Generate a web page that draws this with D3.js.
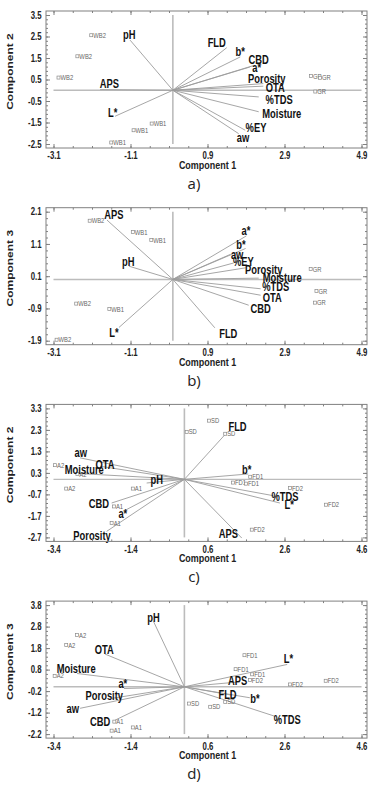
<!DOCTYPE html>
<html>
<head>
<meta charset="utf-8">
<script src="https://cdn.jsdelivr.net/npm/d3@7"></script>
<style>
  body { margin: 0; background: #fff; }
  svg { display: block; }
</style>
</head>
<body>
<svg id="chart" width="377" height="785"></svg>
<script>
// tick labels
var xTicksAB = [-3.1, -1.1, 0.9, 2.9, 4.9];
var xTicksCD = [-3.4, -1.4, 0.6, 2.6, 4.6];
var yTicksA = [3.5, 2.5, 1.5, 0.5, -0.5, -1.5, -2.5];
var yTicksB = [2.1, 1.1, 0.1, -0.9, -1.9];
var yTicksC = [3.3, 2.3, 1.3, 0.3, -0.7, -1.7, -2.7];
var yTicksD = [3.8, 2.8, 1.8, 0.8, -0.2, -1.2, -2.2];

// loadings: name, end x, end y, label x, label y
var vectorsA = [
  ["pH", -1.11, 2.33, -1.13, 2.56],
  ["FLD", 1.40, 1.98, 1.14, 2.20],
  ["b*", 1.75, 1.55, 1.75, 1.78],
  ["CBD", 2.10, 1.15, 2.23, 1.40],
  ["a*", 2.00, 1.08, 2.18, 1.04],
  ["Porosity", 2.35, 0.31, 2.44, 0.54],
  ["OTA", 2.35, 0.19, 2.66, 0.12],
  ["%TDS", 2.23, -0.31, 2.76, -0.43],
  ["Moisture", 2.23, -1.00, 2.83, -1.09],
  ["%EY", 1.88, -1.86, 2.16, -1.74],
  ["aw", 1.71, -2.02, 1.82, -2.22],
  ["APS", -1.89, 0.03, -1.65, 0.31],
  ["L*", -1.50, -1.21, -1.56, -1.04]
];
var vectorsB = [
  ["APS", -1.71, 1.84, -1.53, 2.01],
  ["pH", -1.14, 0.41, -1.16, 0.56],
  ["L*", -1.40, -1.49, -1.53, -1.64],
  ["FLD", 1.09, -1.50, 1.44, -1.69],
  ["CBD", 1.97, -0.80, 2.28, -0.90],
  ["OTA", 2.28, -0.49, 2.58, -0.57],
  ["%TDS", 2.28, -0.29, 2.67, -0.24],
  ["Moisture", 2.23, 0.04, 2.84, 0.04],
  ["Porosity", 1.89, 0.36, 2.36, 0.30],
  ["%EY", 1.58, 0.51, 1.83, 0.55],
  ["aw", 1.50, 0.78, 1.67, 0.76],
  ["b*", 1.89, 0.96, 1.77, 1.06],
  ["a*", 1.91, 1.35, 1.90, 1.50]
];
var vectorsC = [
  ["FLD", 1.10, 2.17, 1.38, 2.45],
  ["aw", -2.71, 1.00, -2.69, 1.23],
  ["OTA", -2.19, 0.61, -2.06, 0.69],
  ["Moisture", -2.75, 0.27, -2.60, 0.46],
  ["pH", -0.98, -0.17, -0.72, -0.04],
  ["b*", 1.66, 0.25, 1.62, 0.46],
  ["%TDS", 2.31, -0.76, 2.61, -0.79],
  ["L*", 2.48, -1.10, 2.72, -1.18],
  ["CBD", -1.89, -1.10, -2.22, -1.13],
  ["a*", -1.54, -1.44, -1.60, -1.60],
  ["Porosity", -2.02, -2.42, -2.40, -2.61],
  ["APS", 1.49, -2.73, 1.14, -2.55]
];
var vectorsD = [
  ["pH", -0.80, 3.03, -0.80, 3.22],
  ["OTA", -2.06, 1.52, -2.08, 1.74],
  ["Moisture", -2.79, 0.62, -2.81, 0.82],
  ["a*", -1.57, -0.08, -1.60, 0.16],
  ["Porosity", -1.89, -0.54, -2.08, -0.43],
  ["aw", -2.71, -1.00, -2.90, -1.01],
  ["CBD", -1.80, -1.55, -2.19, -1.63],
  ["L*", 2.67, 1.04, 2.70, 1.29],
  ["APS", 1.44, 0.23, 1.38, 0.27],
  ["FLD", 1.23, -0.39, 1.12, -0.35],
  ["b*", 1.70, -0.51, 1.83, -0.54],
  ["%TDS", 2.40, -1.40, 2.67, -1.52]
];

// scores: sample, x, y
var pointsA = [
  ["WB2", -2.12, 2.56], ["WB2", -2.48, 1.58], ["WB2", -2.97, 0.59],
  ["WB1", -0.55, -1.55], ["WB1", -1.02, -1.86], ["WB1", -1.60, -2.43],
  ["GR", 3.59, 0.66], ["GR", 3.82, 0.58], ["GR", 3.70, -0.06]
];
var pointsB = [
  ["WB2", -2.16, 1.82], ["WB1", -1.04, 1.47], ["WB1", -0.56, 1.22],
  ["WB2", -2.51, -0.75], ["WB1", -1.65, -0.92], ["WB2", -3.02, -1.87],
  ["GR", 3.58, 0.32], ["GR", 3.73, -0.36], ["GR", 3.69, -0.72]
];
var pointsC = [
  ["SD", 0.64, 2.73], ["SD", 0.06, 2.21], ["SD", 1.06, 2.12],
  ["A2", -3.36, 0.66], ["A2", -2.78, 0.25], ["A2", -3.07, -0.43],
  ["A1", -1.34, -0.43], ["A1", -1.83, -1.26], ["A1", -1.89, -2.03],
  ["FD1", 1.71, 0.12], ["FD1", 1.26, -0.15], ["FD1", 1.60, -0.20],
  ["FD2", 2.74, -0.40], ["FD2", 3.68, -1.18], ["FD2", 1.75, -2.34]
];
var pointsD = [
  ["A2", -2.79, 2.41], ["A2", -3.07, 1.94], ["A2", -3.37, 0.51],
  ["A1", -1.82, -1.62], ["A1", -1.89, -2.04], ["A1", -1.34, -1.89],
  ["SD", 0.12, -0.78], ["SD", 0.67, -0.93], ["SD", 1.06, -0.70],
  ["FD1", 1.56, 1.47], ["FD1", 1.33, 0.82], ["FD1", 1.76, 0.58],
  ["FD2", 1.70, 0.31], ["FD2", 2.74, 0.11], ["FD2", 3.67, 0.28]
];

var panels = [
  { vectors: vectorsA, points: pointsA, xTicks: xTicksAB, yTicks: yTicksA, yTitle: "Component 2", tag: "a)" },
  { vectors: vectorsB, points: pointsB, xTicks: xTicksAB, yTicks: yTicksB, yTitle: "Component 3", tag: "b)" },
  { vectors: vectorsC, points: pointsC, xTicks: xTicksCD, yTicks: yTicksC, yTitle: "Component 2", tag: "c)" },
  { vectors: vectorsD, points: pointsD, xTicks: xTicksCD, yTicks: yTicksD, yTitle: "Component 3", tag: "d)" }
];

var svg = d3.select("#chart");
var font = "'Liberation Sans', Arial, sans-serif";
var squash = 0.78; // the source figure is squeezed sideways
var frameL = 46, frameR = 367, tickL = 53.5, tickR = 361.5, span = 129, pad = 4;
var fmt = function(d) { return d3.format(".1f")(d).replace("\u2212", "-"); };

var place = function(sel, x, y, extra) {
  sel.attr("transform", "translate(" + x + "," + y + ") scale(" + squash + ",1)" + (extra || ""));
};

panels.forEach(function(p, i) {
  var top = 15 + i * 196.7, bottom = top + span;
  var frameT = top - pad, frameB = bottom + pad;
  var x0 = p.xTicks[0], x1 = p.xTicks[p.xTicks.length - 1];
  var yHi = p.yTicks[0], yLo = p.yTicks[p.yTicks.length - 1];
  var x = d3.scaleLinear().domain([x0, x1]).range([tickL, tickR]);
  var y = d3.scaleLinear().domain([yLo, yHi]).range([bottom, top]);
  var g = svg.append("g");

  // zero lines
  g.append("line").attr("x1", x(x0)).attr("x2", x(x1)).attr("y1", y(0)).attr("y2", y(0))
    .attr("stroke", "#bcbcbc").attr("stroke-width", 1.4);
  g.append("line").attr("x1", x(0)).attr("x2", x(0)).attr("y1", y(yHi)).attr("y2", y(yLo))
    .attr("stroke", "#bcbcbc").attr("stroke-width", 1.6);

  // loadings
  g.selectAll(".vec").data(p.vectors).enter().append("line")
    .attr("x1", x(0)).attr("y1", y(0))
    .attr("x2", function(d) { return x(d[1]); })
    .attr("y2", function(d) { return y(d[2]); })
    .attr("stroke", "#9c9c9c").attr("stroke-width", 0.9);

  // scores
  var pts = g.selectAll(".pt").data(p.points).enter().append("g");
  pts.append("rect")
    .attr("x", function(d) { return x(d[1]) - 1.5; })
    .attr("y", function(d) { return y(d[2]) - 1.5; })
    .attr("width", 3).attr("height", 3)
    .attr("fill", "#fff").attr("stroke", "#8a8a8a").attr("stroke-width", 0.7);
  pts.append("text").text(function(d) { return d[0]; })
    .attr("dy", "0.35em")
    .attr("font-family", font).attr("font-size", 7.5).attr("fill", "#666")
    .each(function(d) { place(d3.select(this), x(d[1]) + 2, y(d[2])); });

  // loading labels
  g.selectAll(".lab").data(p.vectors).enter().append("text")
    .text(function(d) { return d[0]; })
    .attr("text-anchor", "middle").attr("dy", "0.35em")
    .attr("font-family", font).attr("font-size", 12).attr("font-weight", "bold").attr("fill", "#111")
    .each(function(d) { place(d3.select(this), x(d[3]), y(d[4])); });

  // frame
  g.append("rect").attr("x", frameL).attr("y", frameT)
    .attr("width", frameR - frameL).attr("height", frameB - frameT)
    .attr("fill", "none").attr("stroke", "#808080").attr("stroke-width", 1);

  var xMinor = d3.range(0, (x1 - x0) / 0.5 + 0.5).map(function(k) { return x0 + k * 0.5; });
  var yMinor = d3.range(0, (yHi - yLo) / 0.2 + 0.5).map(function(k) { return yLo + k * 0.2; });
  var styleAxis = function(a) {
    a.select(".domain").remove();
    a.selectAll("line").attr("stroke", "#808080");
  };

  // ticks on all four sides, pointing inward
  g.append("g").attr("transform", "translate(0," + frameB + ")")
    .call(d3.axisBottom(x).tickValues(xMinor).tickSize(-2).tickFormat("")).call(styleAxis);
  g.append("g").attr("transform", "translate(0," + frameT + ")")
    .call(d3.axisTop(x).tickValues(xMinor).tickSize(-2).tickFormat("")).call(styleAxis);
  g.append("g").attr("transform", "translate(" + frameL + ",0)")
    .call(d3.axisLeft(y).tickValues(yMinor).tickSize(-2).tickFormat("")).call(styleAxis);
  g.append("g").attr("transform", "translate(" + frameR + ",0)")
    .call(d3.axisRight(y).tickValues(yMinor).tickSize(-2).tickFormat("")).call(styleAxis);
  g.append("g").attr("transform", "translate(0," + frameT + ")")
    .call(d3.axisTop(x).tickValues(p.xTicks).tickSize(-4).tickFormat("")).call(styleAxis);
  g.append("g").attr("transform", "translate(" + frameR + ",0)")
    .call(d3.axisRight(y).tickValues(p.yTicks).tickSize(-4).tickFormat("")).call(styleAxis);

  var xAxis = g.append("g").attr("transform", "translate(0," + frameB + ")")
    .call(d3.axisBottom(x).tickValues(p.xTicks).tickSize(-4).tickPadding(4.4).tickFormat(fmt));
  var yAxis = g.append("g").attr("transform", "translate(" + frameL + ",0)")
    .call(d3.axisLeft(y).tickValues(p.yTicks).tickSize(-4).tickPadding(5.8).tickFormat(fmt));
  [xAxis, yAxis].forEach(function(a) {
    styleAxis(a);
    a.attr("font-family", font).attr("font-size", 10);
    a.selectAll("text").attr("font-weight", "bold").attr("fill", "#222")
      .attr("transform", "scale(" + squash + ",1)");
  });

  // titles
  g.append("text").text("Component 1")
    .attr("text-anchor", "middle")
    .attr("font-family", font).attr("font-size", 11.5).attr("font-weight", "bold").attr("fill", "#222")
    .call(place, (frameL + frameR) / 2 + 1, bottom + 25);
  g.append("text").text(p.yTitle)
    .attr("text-anchor", "middle").attr("dy", "0.35em")
    .attr("font-family", font).attr("font-size", 12).attr("font-weight", "bold").attr("fill", "#222")
    .call(place, 10, (frameT + frameB) / 2 - 8, " rotate(-90)");
  g.append("text").text(p.tag)
    .attr("text-anchor", "middle")
    .attr("font-family", "'Open Sans', sans-serif").attr("font-size", 15).attr("fill", "#222")
    .attr("x", 194).attr("y", bottom + 45);
});
</script>
</body>
</html>
